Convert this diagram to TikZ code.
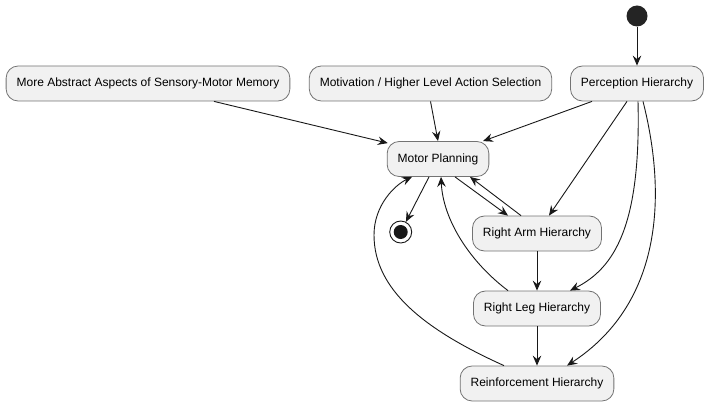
\documentclass[tikz,border=0pt]{standalone}
\usepackage{fontspec}
\setmainfont{Liberation Sans}
\usepackage{tikz}
\usetikzlibrary{arrows.meta,calc}
\definecolor{statefill}{HTML}{F1F1F1}
\definecolor{lineclr}{HTML}{181818}

\begin{document}
\begin{tikzpicture}[x=1pt, y=-1pt,
    every node/.style={font=\fontsize{12}{14}\selectfont},
    state/.style={draw=black!55, line width=0.8pt, fill=statefill, rounded corners=12pt, minimum height=35pt, inner xsep=10.5pt},
    link/.style={draw=lineclr, line width=0.9pt, -{Stealth[length=10pt, width=8.5pt, inset=3.5pt]}}]
            \useasboundingbox (0,0) rectangle (708,406);
            % Start / end
            \node[circle, fill=lineclr!95, minimum size=21pt, inner sep=0pt] (init) at (637,16) {};
            \node[circle, draw=lineclr, line width=0.9pt, minimum size=22pt, inner sep=0pt] (fin) at (400.7,232) {};
            \fill[lineclr] (fin.center) circle (7);
            % Top row
            \node[state, minimum width=282pt] (abstr) at (148,83.5) {More Abstract Aspects of Sensory-Motor Memory};
            \node[state, minimum width=241pt] (motiv) at (430.5,83.5) {Motivation / Higher Level Action Selection};
            \node[state, minimum width=132pt] (percep) at (637,83.5) {Perception Hierarchy};
            % Planning and body
            \node[state, minimum width=100pt] (plan) at (438,159) {Motor Planning};
            \node[state, minimum width=128pt] (arm) at (537,233.5) {Right Arm Hierarchy};
            \node[state, minimum width=126pt] (leg) at (537,308.5) {Right Leg Hierarchy};
            \node[state, minimum width=152pt] (reinf) at (537,383.5) {Reinforcement Hierarchy};

            \draw[link] (init) -- (percep);
            \draw[link] ([xshift=66pt]abstr.south) -- ([xshift=1pt, yshift=-2pt]plan.north west);
            \draw[link] (motiv.south) -- (plan.north);
            \draw[link] ([xshift=-45pt]percep.south) -- ([xshift=45pt]plan.north);
            \draw[link] ([xshift=-9pt]plan.south) -- (fin);
            \draw[link] ([xshift=17pt]plan.south) -- ([xshift=-29pt]arm.north);
            \draw[link] ([xshift=-16pt]arm.north) -- ([xshift=32pt]plan.south);
            \draw[link] ([xshift=-10pt]percep.south) -- ([xshift=12pt]arm.north);
            \draw[link] (arm) -- (leg);
            \draw[link] (leg) -- (reinf);

            % Curved returns
            \draw[link] ([xshift=-29pt]leg.north) .. controls (470,262) and (443,220) .. ([xshift=3pt]plan.south);
            \draw[link] ([xshift=-33pt]reinf.north) .. controls (425,330) and (374,290) .. (374,235) .. controls (374,205) and (395,185) .. ([xshift=-26pt]plan.south);
            \draw[link] ([xshift=1pt]percep.south) .. controls (641,225) and (615,268) .. ([xshift=33pt]leg.north);
            \draw[link] ([xshift=6pt]percep.south) .. controls (668,200) and (660,305) .. ([xshift=30pt]reinf.north);
        \end{tikzpicture}
\end{document}
